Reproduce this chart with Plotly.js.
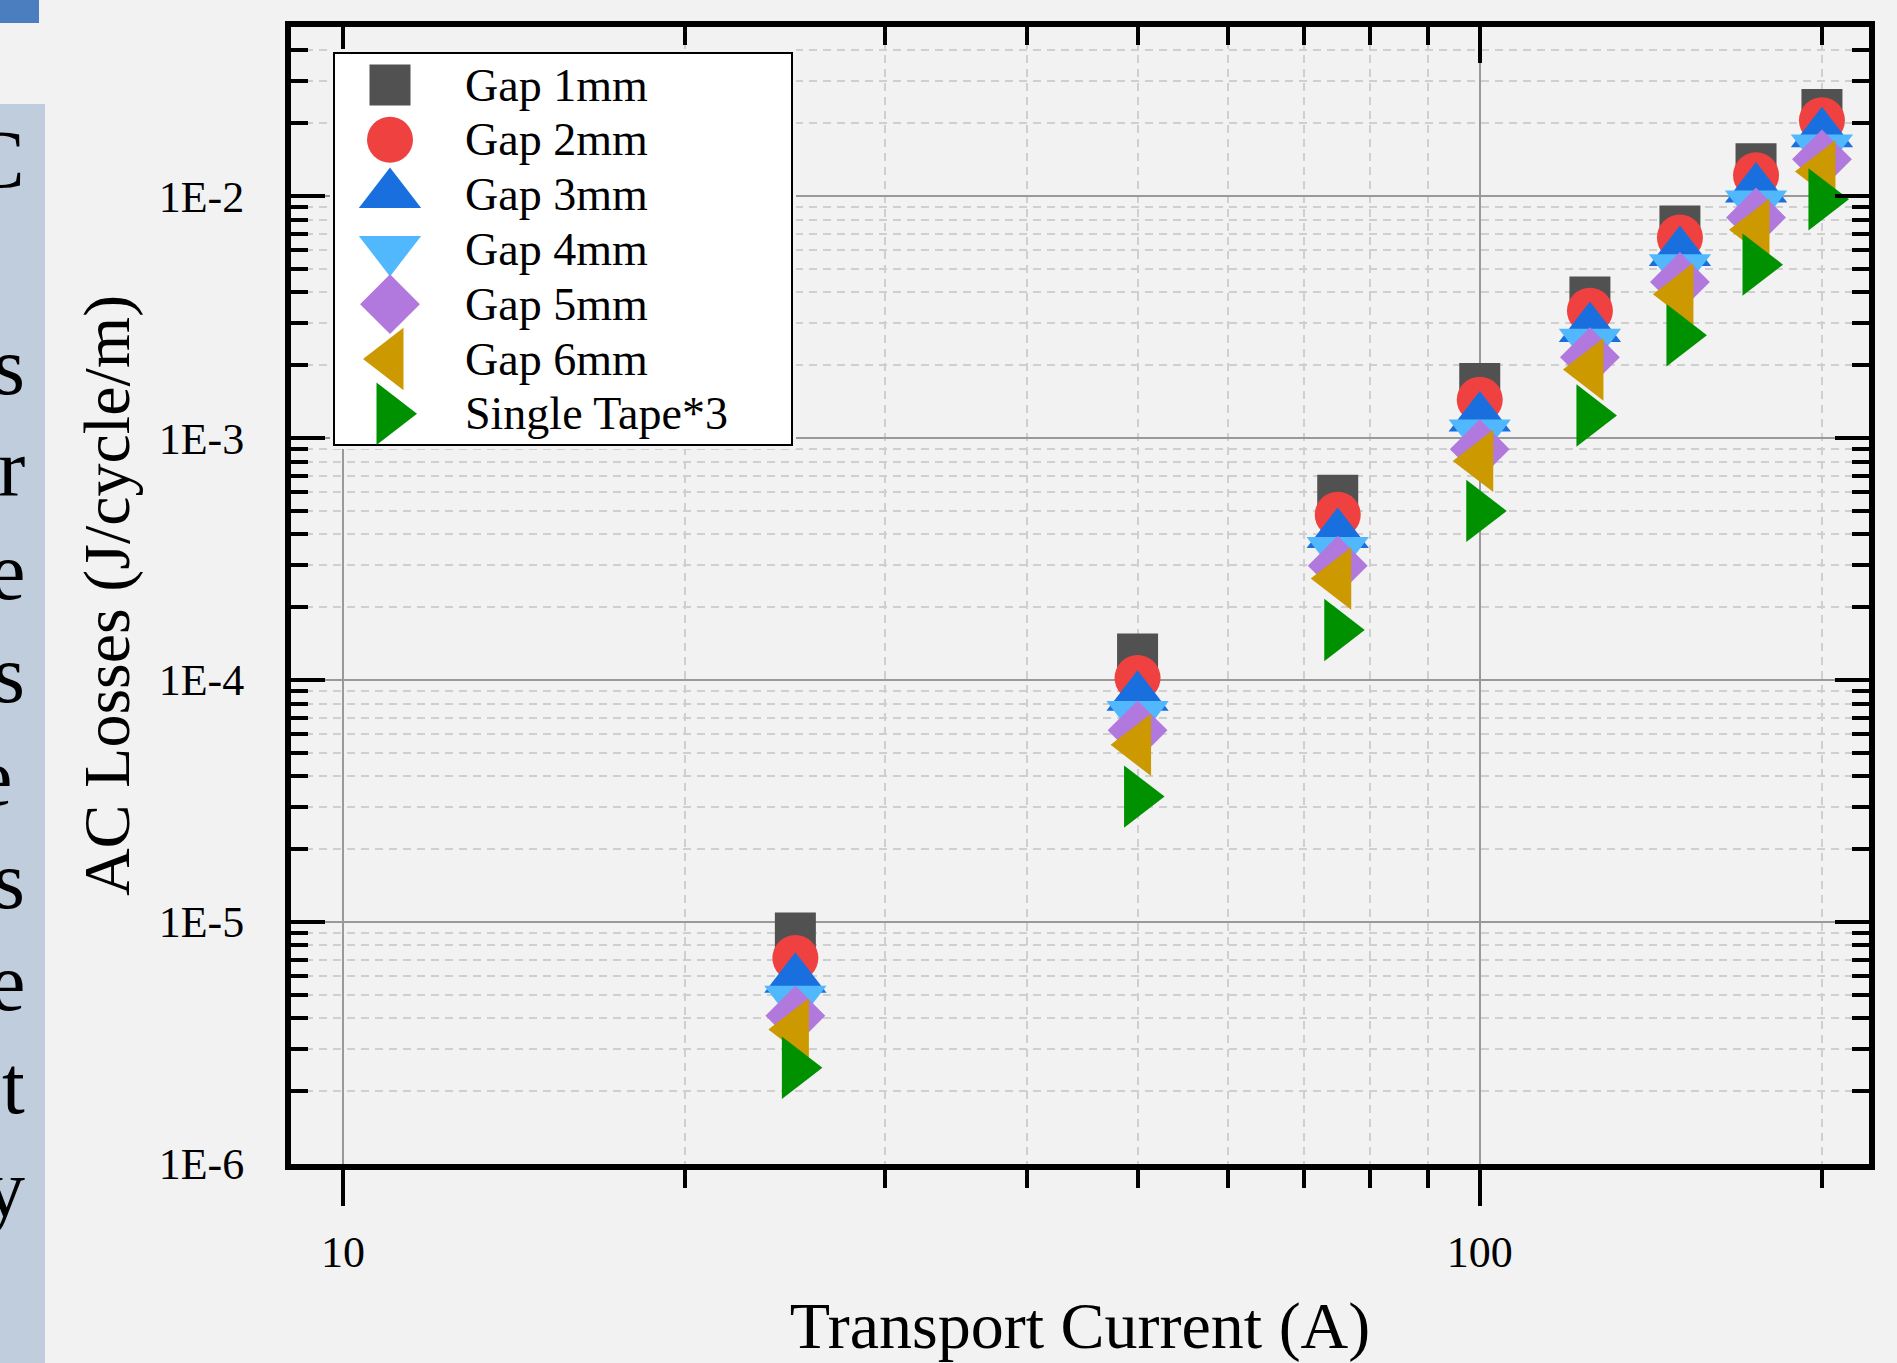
<!DOCTYPE html>
<html>
<head>
<meta charset="utf-8">
<script src="https://cdn.plot.ly/plotly-3.0.1.min.js"></script>
<style>
html,body{margin:0;padding:0;background:#f2f2f2;}
#chart{width:1897px;height:1363px;}
</style>
</head>
<body>
<div id="chart"></div>
<script>
// ---------------- data ----------------
const current = [25, 50, 75, 100, 125, 150, 175, 200];
const seriesNames = ['Gap 1mm', 'Gap 2mm', 'Gap 3mm', 'Gap 4mm', 'Gap 5mm', 'Gap 6mm', 'Single Tape*3'];
const gap1mm = [9.0e-6, 1.28e-4, 5.8e-4, 1.68e-3, 3.83e-3, 7.53e-3, 1.36e-2, 2.28e-2];
const gap2mm = [7.1e-6, 1.02e-4, 4.82e-4, 1.44e-3, 3.36e-3, 6.74e-3, 1.22e-2, 2.06e-2];
const gap3mm = [5.8e-6, 8.5e-5, 4.0e-4, 1.21e-3, 2.84e-3, 5.85e-3, 1.07e-2, 1.81e-2];
const gap4mm = [4.8e-6, 7.2e-5, 3.43e-4, 1.05e-3, 2.49e-3, 5.06e-3, 9.27e-3, 1.58e-2];
const gap5mm = [4.1e-6, 6.2e-5, 2.97e-4, 9.0e-4, 2.16e-3, 4.42e-3, 8.16e-3, 1.42e-2];
const gap6mm = [3.6e-6, 5.4e-5, 2.63e-4, 8.05e-4, 1.92e-3, 3.93e-3, 7.26e-3, 1.265e-2];
const singleTape3 = [2.5e-6, 3.3e-5, 1.61e-4, 5.0e-4, 1.24e-3, 2.66e-3, 5.21e-3, 9.7e-3];
const xTickVals = [10, 100];
const xTickText = ['10', '100'];
const yTickVals = [1e-6, 1e-5, 1e-4, 1e-3, 1e-2];
const yTickText = ['1E-6', '1E-5', '1E-4', '1E-3', '1E-2'];
const xTitle = 'Transport Current (A)';
const yTitle = 'AC Losses (J/cycle/m)';
const sideLetters = ['C', 's', 'r', 'e', 's', 'e', 's', 'e', 't', 'y'];

// ---------------- styles ----------------
const seriesValues = [gap1mm, gap2mm, gap3mm, gap4mm, gap5mm, gap6mm, singleTape3];
const symbols = ['square', 'circle', 'triangle-up', 'triangle-down', 'diamond', 'triangle-left', 'triangle-right'];
const colors = ['#515151', '#F04141', '#1A6FDF', '#52B8FD', '#B178DE', '#CC9900', '#009100'];
const sizes = [41, 46, 54, 54, 46, 54, 54];
const FONT = '"Liberation Serif", "Times New Roman", serif';

const W = 1897, H = 1363;
const M = {l: 291, r: 28, t: 27, b: 199};
const PW = W - M.l - M.r, PH = H - M.t - M.b;
const px2x = px => (px - M.l) / PW;
const px2y = py => (H - M.b - py) / PH;

// minor tick positions
const xMinor = [];
for (let m = 2; m <= 9; m++) xMinor.push(m * 10);
xMinor.push(200);
const yMinor = [];
for (let d = -6; d <= -2; d++) for (let m = 2; m <= 9; m++) { const v = m * Math.pow(10, d); if (v < 0.05) yMinor.push(v); }

// ---------------- traces ----------------
const traces = seriesValues.map((vals, i) => ({
  type: 'scatter', mode: 'markers', name: seriesNames[i],
  x: current, y: vals, xaxis: 'x', yaxis: 'y',
  marker: {symbol: symbols[i], color: colors[i], size: sizes[i], line: {width: 0}},
  cliponaxis: false, hoverinfo: 'x+y+name'
}));
// top axis holder
traces.push({type: 'scatter', mode: 'markers', x: [], y: [], xaxis: 'x2', yaxis: 'y', showlegend: false, hoverinfo: 'skip'});

// custom legend (large keys) in its own small subplot
const LG = {left: 330, top: 49, right: 796, bottom: 449};
const LW = LG.right - LG.left, LH = LG.bottom - LG.top;
const rowY = i => 36 + 54.8 * i;
seriesNames.forEach((nm, i) => {
  traces.push({
    type: 'scatter', mode: 'markers', x: [60], y: [rowY(i)], xaxis: 'x3', yaxis: 'y3',
    marker: {symbol: symbols[i], color: colors[i], size: sizes[i], line: {width: 0}},
    showlegend: false, hoverinfo: 'skip', cliponaxis: false
  });
});

const annotations = seriesNames.map((nm, i) => ({
  xref: 'x3', yref: 'y3', x: 133, y: rowY(i), xanchor: 'left', yanchor: 'middle',
  text: nm, showarrow: false, font: {family: FONT, size: 46, color: '#000'}
}));
// cropped slide text on the left
sideLetters.forEach((ch, i) => {
  const yc = i === 0 ? 160 : 375 + 102.8 * (i - 1) - 9;
  const xr = (i === 5) ? 14 : 27;
  annotations.push({
    xref: 'paper', yref: 'paper', x: px2x(xr), y: px2y(yc), xanchor: 'right', yanchor: 'middle',
    text: ch, showarrow: false, font: {family: FONT, size: 82, color: '#000'}
  });
});

const shapes = [
  {type: 'rect', xref: 'paper', yref: 'paper', x0: px2x(0), x1: px2x(45), y0: px2y(104), y1: px2y(H + 5),
   fillcolor: '#BFCDDD', line: {width: 0}, layer: 'below'},
  {type: 'rect', xref: 'paper', yref: 'paper', x0: px2x(-5), x1: px2x(39), y0: px2y(23), y1: px2y(-5),
   fillcolor: '#4A7EBF', line: {width: 0}, layer: 'below'},
  {type: 'rect', xref: 'x3', yref: 'y3', x0: 4, x1: LW - 4, y0: 4, y1: LH - 4,
   fillcolor: '#FFFFFF', line: {color: '#000', width: 2}, layer: 'below'}
];

const minorGrid = {showgrid: true, gridcolor: '#CFCFCF', gridwidth: 1.5, griddash: '8px,6px'};
const xRange = [Math.log10(9), Math.log10(220)];

const layout = {
  width: W, height: H,
  paper_bgcolor: '#F2F2F2', plot_bgcolor: '#F2F2F2',
  margin: {l: M.l, r: M.r, t: M.t, b: M.b, pad: 0},
  showlegend: false,
  font: {family: FONT, color: '#000'},
  hovermode: 'closest',
  xaxis: {
    type: 'log', range: xRange, tickmode: 'array', tickvals: xTickVals, ticktext: xTickText,
    ticks: 'outside', ticklen: 36, tickwidth: 4, tickcolor: '#000',
    showline: true, linewidth: 6, linecolor: '#000', mirror: false,
    showgrid: true, gridcolor: '#999999', gridwidth: 1.5, zeroline: false,
    tickfont: {family: FONT, size: 44, color: '#000'}, ticklabelstandoff: 8,
    minor: Object.assign({tickmode: 'array', tickvals: xMinor, ticks: 'outside', ticklen: 18, tickwidth: 4, tickcolor: '#000'}, minorGrid),
    title: {text: xTitle, font: {family: FONT, size: 66, color: '#000'}, standoff: 30},
    fixedrange: true
  },
  xaxis2: {
    type: 'log', range: xRange, overlaying: 'x', side: 'top', anchor: 'y',
    tickmode: 'array', tickvals: xTickVals, showticklabels: false,
    ticks: 'inside', ticklen: 36, tickwidth: 4, tickcolor: '#000',
    showline: true, linewidth: 6, linecolor: '#000', showgrid: false, zeroline: false,
    minor: {tickmode: 'array', tickvals: xMinor, ticks: 'inside', ticklen: 18, tickwidth: 4, tickcolor: '#000', showgrid: false},
    fixedrange: true
  },
  yaxis: {
    type: 'log', range: [-6, Math.log10(0.05)], tickmode: 'array', tickvals: yTickVals, ticktext: yTickText,
    ticks: 'inside', ticklen: 34, tickwidth: 4, tickcolor: '#000',
    showline: true, linewidth: 6, linecolor: '#000', mirror: 'ticks',
    showgrid: true, gridcolor: '#999999', gridwidth: 1.5, zeroline: false,
    tickfont: {family: FONT, size: 44, color: '#000'}, ticklabelstandoff: 32,
    minor: Object.assign({tickmode: 'array', tickvals: yMinor, ticks: 'inside', ticklen: 17, tickwidth: 4, tickcolor: '#000'}, minorGrid),
    title: {text: yTitle, font: {family: FONT, size: 66, color: '#000'}, standoff: 10},
    fixedrange: true
  },
  xaxis3: {domain: [px2x(LG.left), px2x(LG.right)], range: [0, LW], visible: false, anchor: 'y3', fixedrange: true},
  yaxis3: {domain: [px2y(LG.bottom), px2y(LG.top)], range: [LH, 0], visible: false, anchor: 'x3', fixedrange: true},
  annotations: annotations,
  shapes: shapes
};

Plotly.newPlot('chart', traces, layout, {displayModeBar: false, staticPlot: false});
</script>
</body>
</html>
